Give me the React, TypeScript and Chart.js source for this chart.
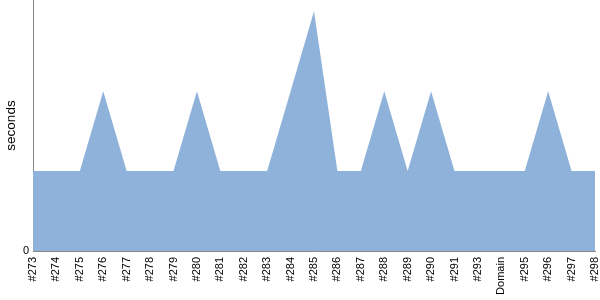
import React, { useEffect, useRef } from "react";
import { Chart, registerables } from "chart.js";

Chart.register(...registerables);

const categories = ["#273","#274","#275","#276","#277","#278","#279","#280","#281","#282","#283","#284","#285","#286","#287","#288","#289","#290","#291","#293","Domain","#295","#296","#297","#298"];
const seconds = [1,1,1,2,1,1,1,2,1,1,1,2,3,1,1,2,1,2,1,1,1,1,2,1,1];
const yTicks = [0];

export default function App() {
  const ref = useRef<HTMLCanvasElement>(null);
  useEffect(() => {
    document.body.style.margin = "0";
    const chart = new Chart(ref.current!, {
      type: "line",
      data: {
        labels: categories,
        datasets: [{
          data: seconds,
          fill: "origin",
          backgroundColor: "#8fb2db",
          borderWidth: 0,
          borderColor: "rgba(0,0,0,0)",
          pointRadius: 0,
          tension: 0,
        }],
      },
      options: {
        animation: false,
        responsive: false,
        layout: { autoPadding: false, padding: { left: 0, right: 5, top: 0, bottom: 0 } },
        plugins: { legend: { display: false }, tooltip: { enabled: false } },
        scales: {
          x: {
            offset: false,
            grid: { display: false, drawTicks: false },
            border: { display: true, color: "#888", width: 1 },
            ticks: {
              autoSkip: false, minRotation: 90, maxRotation: 90, padding: 6,
              color: "#000", font: { family: "Liberation Sans", size: 11 },
            },
            afterFit: (s: any) => { s.height = 49; s.paddingLeft = 0; s.paddingRight = 0; },
          },
          y: {
            min: 0, max: 3.14,
            grid: { display: false, drawTicks: false },
            border: { display: true, color: "#888", width: 1 },
            afterBuildTicks: (s: any) => { s.ticks = yTicks.map(v => ({ value: v })); },
            ticks: { padding: 4, color: "#000", font: { family: "Liberation Sans", size: 11 } },
            title: { display: true, text: "seconds", color: "#000", font: { family: "Liberation Sans", size: 13.5 }, padding: { top: 3, bottom: 0 } },
            afterFit: (s: any) => { s.width = 33; s.paddingTop = 0; s.paddingBottom = 0; },
          },
        },
      },
    });
    return () => chart.destroy();
  }, []);
  return (
    <div style={{ width: 600, height: 300 }}>
      <canvas ref={ref} width={600} height={300} />
    </div>
  );
}
